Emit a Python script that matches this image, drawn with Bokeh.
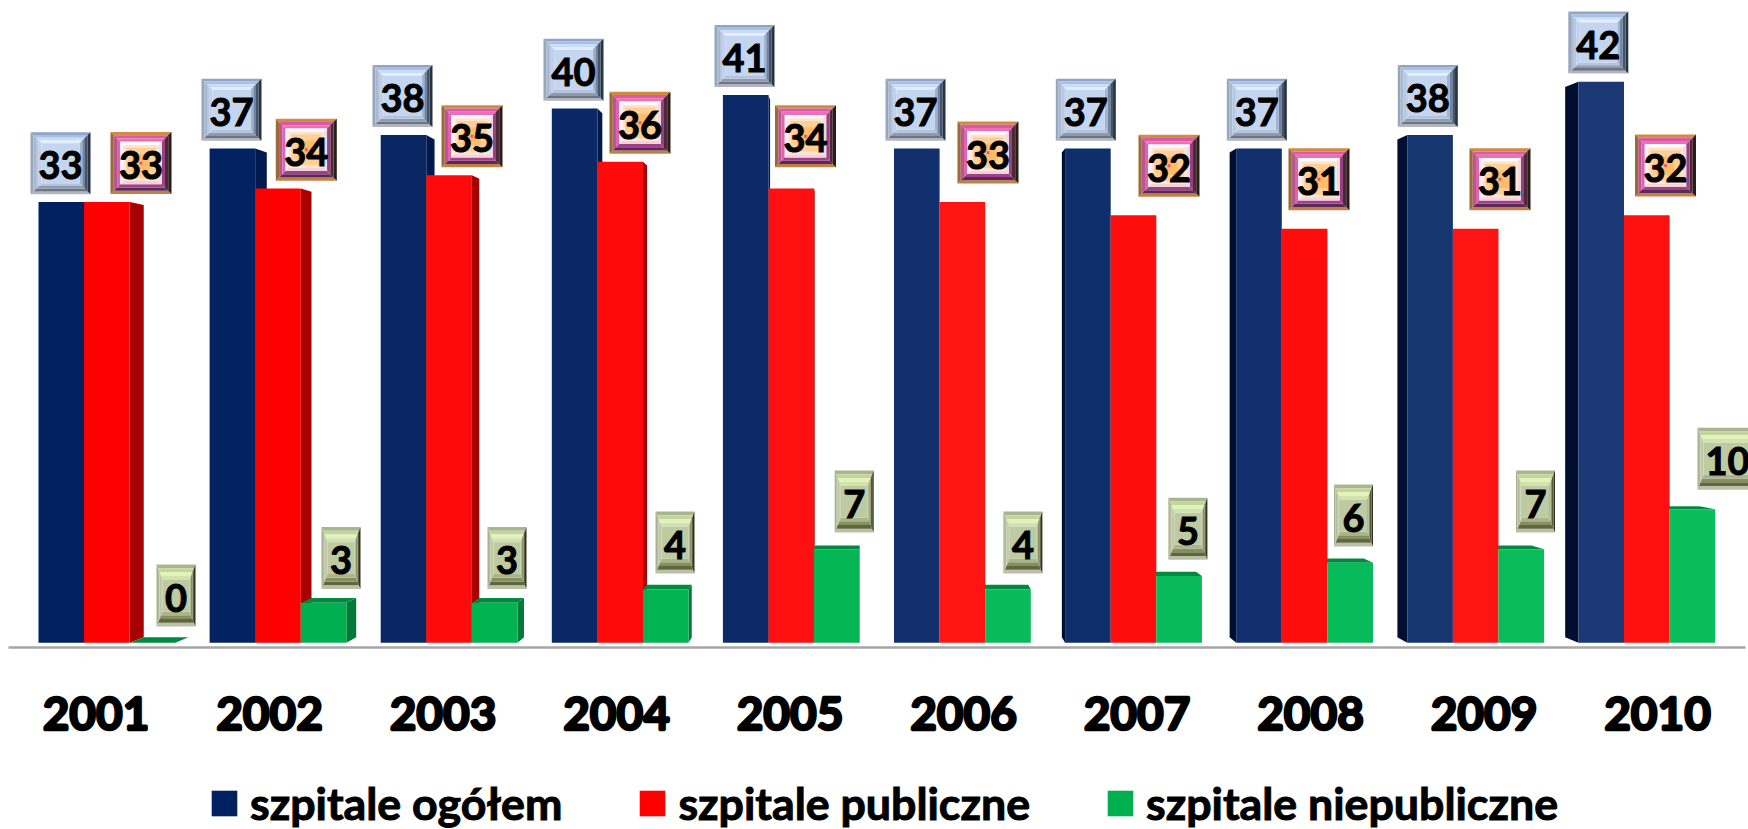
from bokeh.plotting import figure
from bokeh.models import Range1d, LinearAxis, FixedTicker, Legend, LegendItem, BasicTickFormatter, ColumnDataSource
from bokeh.core.properties import value
from bokeh.embed import file_html
from bokeh.resources import INLINE

# ---- data ----
YEARS = [2001, 2002, 2003, 2004, 2005, 2006, 2007, 2008, 2009, 2010]
OGOLEM = [33, 37, 38, 40, 41, 37, 37, 37, 38, 42]
PUBLICZNE = [33, 34, 35, 36, 34, 33, 32, 31, 31, 32]
NIEPUBLICZNE = [0, 3, 3, 4, 7, 4, 5, 6, 7, 10]
SERIES_NAMES = ["szpitale ogółem", "szpitale publiczne", "szpitale niepubliczne"]

# ---- styles per year (the bars lighten slightly towards the right) ----
NAVY = ["#002060", "#032262", "#0A2764", "#0B2866", "#0D2A68", "#12306E", "#0F2E6C", "#122F6E", "#163670", "#1A3873"]
RED = ["#FF0000", "#FF0000", "#FF0A0A", "#FF0A0A", "#FF1010", "#FF1414", "#FF0C0C", "#FF0C0C", "#FF1414", "#FF1010"]
GREEN = ["#00B050", "#00B050", "#02B351", "#02B452", "#03B553", "#08BA59", "#08BA59", "#08BB5A", "#0ABD5B", "#0ABD5B"]
SIDE = {"navy": "#001A4D", "red": "#A80000", "green": "#007A38"}
SIDE_DARK_NAVY = "#000E30"
TOP = {"navy": "#0B2254", "red": "#C00000", "green": "#008A40"}

# ---- layout, in page pixels of the reference ----
PAGE_W, PAGE_H = 1748, 829
X0, DX, BAR_W = 39.0, 171.1, 45.6
Y0, DY = 643.0, 13.36
F, VX_R, VX_L, VY = 0.0195, 850.0, 900.0, 356.0
TICK_0, TICK_D = 95.5, 173.5
SHIFT_X, SHIFT_Y = 1.0, 0.7

NAVY_LABELS = [(61, 163.5), (232, 110), (403, 96.3), (574, 70), (745, 56.3), (916, 110), (1086.3, 110), (1257.3, 110), (1428.3, 96.3), (1598.8, 42.7)]
PINK_LABELS = [(141.5, 163.3), (306.8, 150), (472.5, 136.5), (640.5, 123), (806, 136.5), (988.5, 152.8), (1169.5, 166), (1319.5, 179.5), (1500.5, 179.5), (1666, 165.8)]
GREEN_LABELS = [(176.5, 595.8), (341.5, 558.3), (507.5, 558.3), (675.5, 542.7), (854.7, 501.7), (1023.4, 542.7), (1188.4, 529), (1354, 515.7), (1536, 501.8), (1728, 459)]
GREEN_W = [39] * 9 + [60]


def X(px):
    return (px - X0) / DX


def Y(py):
    return (Y0 - py) / DY


def py_of(v):
    return Y0 - v * DY


def back(px, py):
    """Point on the back of a bar, towards the vanishing point."""
    if px < VX_R:
        bx = px + F * (VX_R - px)
    elif px > VX_L:
        bx = px + F * (VX_L - px)
    else:
        bx = px
    return bx, py + F * (VY - py)


p = figure(width=PAGE_W, height=PAGE_H,
           x_range=Range1d(X(SHIFT_X), X(PAGE_W + SHIFT_X)),
           y_range=Range1d(Y(PAGE_H + SHIFT_Y), Y(SHIFT_Y)),
           toolbar_location=None, output_backend="svg", min_border=0, outline_line_color=None,
           x_axis_type=None, y_axis_type=None, background_fill_color="white", border_fill_color="white")
p.grid.visible = False

SER = [("navy", OGOLEM, NAVY), ("red", PUBLICZNE, RED), ("green", NIEPUBLICZNE, GREEN)]

# side and top faces, in data coordinates from the values
for s, (key, vals, cols) in enumerate(SER):
    sxs, sys, scs, txs, tys, tcs = [], [], [], [], [], []
    for i, v in enumerate(vals):
        xl = X0 + DX * i + s * BAR_W
        xr = xl + BAR_W
        top = py_of(v)
        if xr < VX_R:
            bx, by = back(xr, top)
            bx2, by2 = back(xr, Y0)
            sxs.append([X(xr), X(bx), X(bx2), X(xr)])
            sys.append([Y(top), Y(by), Y(by2), Y(Y0)])
            scs.append(SIDE[key])
        if xl > VX_L and s == 0:
            bx, by = back(xl, top)
            bx2, by2 = back(xl, Y0)
            sxs.append([X(xl), X(bx), X(bx2), X(xl)])
            sys.append([Y(top), Y(by), Y(by2), Y(Y0)])
            scs.append(SIDE_DARK_NAVY)
        if top > VY:
            blx, by = back(xl, top)
            brx, _ = back(xr, top)
            txs.append([X(xl), X(xr), X(brx), X(blx)])
            tys.append([Y(top), Y(top), Y(by), Y(by)])
            tcs.append(TOP[key])
    if sxs:
        p.patches(sxs, sys, fill_color=scs, line_color=None)
    if txs:
        p.patches(txs, tys, fill_color=tcs, line_color=None)

# fronts
front = []
for s, (key, vals, cols) in enumerate(SER):
    src = ColumnDataSource(dict(left=[i + s * BAR_W / DX for i in range(10)],
                                right=[i + (s + 1) * BAR_W / DX for i in range(10)],
                                top=vals, bottom=[0] * 10, color=cols))
    front.append(p.quad(left="left", right="right", top="top", bottom="bottom", source=src,
                        fill_color="color", line_color=None))


# bevelled value labels
def bevel(cx, cy, w, h, bx, by, rings, center, extras=()):
    xs, ys, cs = [], [], []
    n = len(rings["top"])
    l0, r0, t0, b0 = cx - w / 2, cx + w / 2, cy - h / 2, cy + h / 2
    for k in range(n):
        a, c = k / n, (k + 1) / n
        l1, r1, t1, b1 = l0 + bx * a, r0 - bx * a, t0 + by * a, b0 - by * a
        l2, r2, t2, b2 = l0 + bx * c, r0 - bx * c, t0 + by * c, b0 - by * c
        xs += [[l1, r1, r2, l2], [l1, r1, r2, l2], [l1, l2, l2, l1], [r1, r2, r2, r1]]
        ys += [[t1, t1, t2, t2], [b1, b1, b2, b2], [t1, t2, b2, b1], [t1, t2, b2, b1]]
        cs += [rings["top"][k], rings["bottom"][k], rings["left"][k], rings["right"][k]]
    l, r, t, b = l0 + bx, r0 - bx, t0 + by, b0 - by
    xs.append([l, r, r, l])
    ys.append([t, t, b, b])
    cs.append(center)
    for frac, col in extras:
        ew, eh = (r - l) * frac / 2, (b - t) * frac / 2
        xs.append([cx - ew, cx + ew, cx + ew, cx - ew])
        ys.append([cy - eh, cy - eh, cy + eh, cy + eh])
        cs.append(col)
    return xs, ys, cs


BLUE_RINGS = dict(top=["#8FA5C8", "#A9C0E2", "#C8DBF8", "#E2EEFF"],
                  left=["#98A6BC", "#A8B8D0", "#B6C7E2", "#C0D0EC"],
                  right=["#27333F", "#45546A", "#71839E", "#9FB2CF"],
                  bottom=["#B0B5BF", "#6C7381", "#8D9AB0", "#B4C3DC"])
PINK_RINGS = dict(top=["#CF8B43", "#D95AA2", "#F26CBA", "#FFFFFF"],
                  left=["#9C6A34", "#B5588E", "#E262B0", "#FFF2F8"],
                  right=["#2B1C16", "#4A2A38", "#9A3F80", "#F0DCDC"],
                  bottom=["#C08146", "#5A2A55", "#A0408A", "#F4D2DA"])
OLIVE_RINGS = dict(top=["#A9B58F", "#C4D49E", "#E2F3BA", "#D2E4AE"],
                   left=["#A8B090", "#B4BF9B", "#BCC7A3", "#C2CCA9"],
                   right=["#30341F", "#555A3C", "#8A9168", "#B0BA90"],
                   bottom=["#BAC0A6", "#5F6640", "#84905E", "#A9B48A"])

all_x, all_y, all_c = [], [], []
for i in range(10):
    for (lx, ly), w, h, bx, by, rings, c, ex in (
        (NAVY_LABELS[i], 60, 62, 11, 11, BLUE_RINGS, "#C4D5EF", ()),
        (PINK_LABELS[i], 61, 62, 13, 13, PINK_RINGS, "#FFE3CF", ((0.85, "#FFCF96"), (0.5, "#FFBC68"), (0.08, "#E8507E"))),
        (GREEN_LABELS[i], GREEN_W[i], 62, 6, 15, OLIVE_RINGS, "#BDCAA2", ()),
    ):
        xs, ys, cs = bevel(lx, ly, w, h, bx, by, rings, c, ex)
        all_x += [[X(q) for q in a] for a in xs]
        all_y += [[Y(q) for q in a] for a in ys]
        all_c += cs
p.patches(all_x, all_y, fill_color=all_c, line_color=None)

for labels, vals in ((NAVY_LABELS, OGOLEM), (PINK_LABELS, PUBLICZNE), (GREEN_LABELS, NIEPUBLICZNE)):
    src = ColumnDataSource(dict(x=[X(a) for a, _ in labels], y=[Y(b + 2) for _, b in labels],
                                t=[str(v) for v in vals]))
    p.text(x="x", y="y", text="t", source=src, text_font=value("Lato"), text_font_style="bold",
           text_font_size="38px", text_color="black", text_outline_color="black", text_align="center", text_baseline="middle")

# category axis, drawn inside the frame at the bar base
p.extra_x_ranges["years"] = Range1d(2001 + (0 - TICK_0) / TICK_D, 2001 + (PAGE_W - TICK_0) / TICK_D)
axis = LinearAxis(x_range_name="years", fixed_location=Y(647.7), ticker=FixedTicker(ticks=YEARS),
                  formatter=BasicTickFormatter(use_scientific=False),
                  bounds=(2001 + (8 - TICK_0) / TICK_D, 2001 + (1745 - TICK_0) / TICK_D),
                  axis_line_color="#A6A6A6", axis_line_width=2.5,
                  major_tick_line_color=None, minor_tick_line_color=None,
                  major_label_text_font="Lato", major_label_text_font_style="bold",
                  major_label_text_font_size="46px", major_label_text_color="black",
                  major_label_text_outline_color="black",
                  major_label_standoff=43)
p.add_layout(axis, "below")

legend = Legend(items=[LegendItem(label=n, renderers=[r], index=0) for n, r in zip(SERIES_NAMES, front)],
                orientation="horizontal", location=(208, -1), padding=0, margin=0,
                glyph_width=32, glyph_height=32, label_standoff=10, spacing=74,
                label_text_font="Lato", label_text_font_style="bold", label_text_font_size="44.7px",
                label_text_color="black", label_text_outline_color="black",
                background_fill_alpha=0, border_line_color=None, label_height=27)
p.add_layout(legend)

open("out.html", "w").write(file_html(p, INLINE))
